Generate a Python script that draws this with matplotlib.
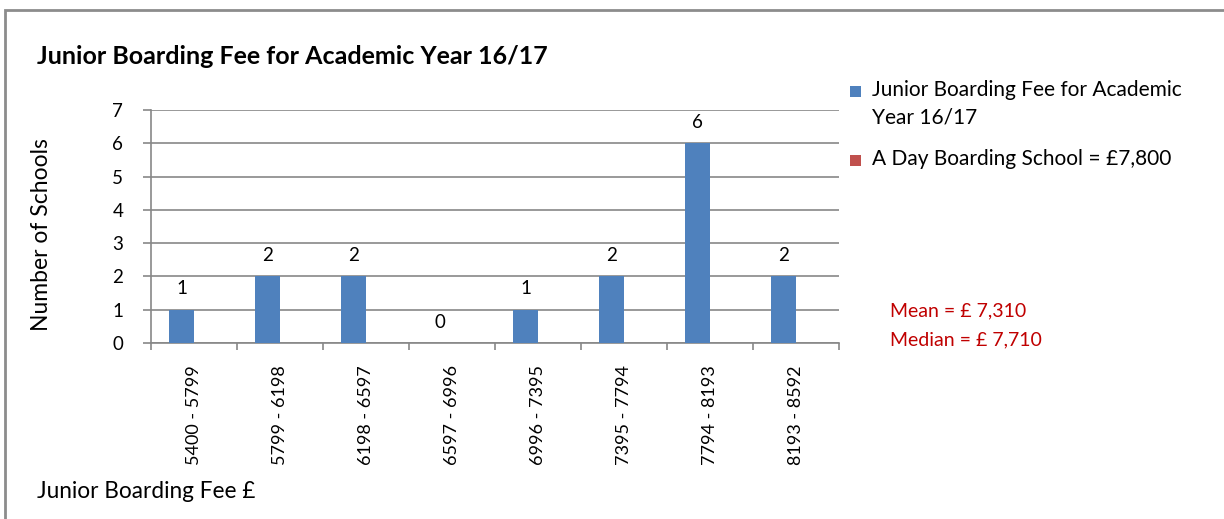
import matplotlib.pyplot as plt
import matplotlib.patches as mpatches
import numpy as np

plt.rcParams['font.family'] = ['Lato', 'DejaVu Sans']

# fee bands and number of schools in each
fee_bands = ['5400 - 5799', '5799 - 6198', '6198 - 6597', '6597 - 6996',
             '6996 - 7395', '7395 - 7794', '7794 - 8193', '8193 - 8592']
school_counts = [1, 2, 2, 0, 1, 2, 6, 2]
day_school = [0, 0, 0, 0, 0, 0, 0, 0]

series_names = ['Junior Boarding Fee for Academic\nYear 16/17', 'A Day Boarding School = £7,800']
stats_text = ['Mean = £ 7,310', 'Median = £ 7,710']

blue = '#4F81BD'
red = '#C0504D'
grid_grey = '#878787'

fig = plt.figure(figsize=(12.24, 5.19), dpi=100)
ax = fig.add_axes([151 / 1224, 1 - 343 / 519, (839 - 151) / 1224, (343 - 110) / 519])

# chart border (cut off at right and bottom like the screenshot)
fig.patches.append(mpatches.Rectangle((5 / 1224, -0.1), 1.2, 1 - 10 / 519 + 0.1,
                                      transform=fig.transFigure, fill=False,
                                      edgecolor='#8c8c8c', linewidth=2))

ind = np.arange(len(fee_bands))
w = 1 / 3.5
bars1 = ax.bar(ind - w / 2, school_counts, w, color=blue, zorder=3)
bars2 = ax.bar(ind + w / 2, day_school, w, color=red, zorder=3)

for bar, v in zip(bars1, school_counts):
    ax.annotate(str(v), (bar.get_x() + bar.get_width() / 2, v), xytext=(0, 15),
                textcoords='offset points', ha='center', va='center', fontsize=13.5)

ax.set_xlim(-0.5, len(fee_bands) - 0.5)
ax.set_ylim(0, 7)
ax.set_yticks(range(0, 8))
ax.yaxis.grid(True, color=grid_grey, linewidth=1.2, zorder=0)
ax.set_axisbelow(True)

ax.set_xticks(ind)
ax.set_xticklabels(fee_bands, rotation=90, va='top', ha='center')
ax.set_xticks(np.arange(-0.5, len(fee_bands)), minor=True)
ax.tick_params(axis='x', which='major', length=0, pad=16, labelsize=13)
ax.tick_params(axis='x', which='minor', length=5, color=grid_grey, width=1.2)
ax.tick_params(axis='y', length=6, color=grid_grey, width=1.2, pad=14, labelsize=13.5)

for s in ['top', 'right']:
    ax.spines[s].set_visible(False)
for s in ['left', 'bottom']:
    ax.spines[s].set_color(grid_grey)
    ax.spines[s].set_linewidth(1.2)

fig.text(37 / 1224, 1 - 57 / 519, 'Junior Boarding Fee for Academic Year 16/17',
         fontsize=18, fontweight='bold', va='center', ha='left')
fig.text(42 / 1224, 1 - 235 / 519, 'Number of Schools', rotation=90,
         fontsize=16.5, va='center', ha='center')
fig.text(37 / 1224, 1 - 491 / 519, 'Junior Boarding Fee £', fontsize=16.3,
         va='center', ha='left')

fig.text(890 / 1224, 1 - 311 / 519, stats_text[0], color='#C00000', fontsize=14, va='center')
fig.text(890 / 1224, 1 - 340 / 519, stats_text[1], color='#C00000', fontsize=14, va='center')

# legend drawn by hand so the square sits on the first line of a wrapped label
legend_rows = [(bars1, series_names[0], 91), (bars2, series_names[1], 160)]
for bars, name, y in legend_rows:
    fig.patches.append(mpatches.Rectangle((850 / 1224, 1 - (y + 5.5) / 519), 11 / 1224, 11 / 519,
                                          transform=fig.transFigure,
                                          facecolor=bars.patches[0].get_facecolor(),
                                          edgecolor='none'))
    fig.text(872 / 1224, 1 - (y - 11) / 519, name, fontsize=15, va='top', ha='left',
             linespacing=1.45)

fig.savefig('out.png', dpi=100)
